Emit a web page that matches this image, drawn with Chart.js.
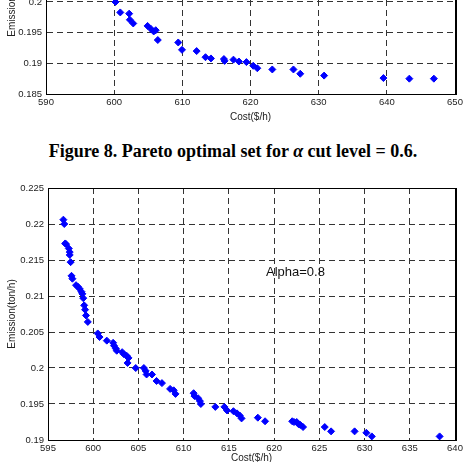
<!DOCTYPE html>
<html>
<head>
<meta charset="utf-8">
<script src="https://cdn.jsdelivr.net/npm/chart.js@4/dist/chart.umd.min.js"></script>
<style>
  html, body { margin: 0; padding: 0; background: #fff; }
  body { width: 466px; height: 462px; position: relative; overflow: hidden; }
  canvas { position: absolute; left: 0; }
  #top { top: -100px; }
  #bottom { top: 170px; }
  .caption {
    position: absolute; top: 140px; left: 0; width: 466px;
    text-align: center; font: bold 18px "Liberation Serif", "Times New Roman", serif;
    line-height: 22px; color: #000;
  }
</style>
</head>
<body>
<canvas id="top" width="466" height="230"></canvas>
<div class="caption">Figure 8. Pareto optimal set for <i>α</i> cut level = 0.6.</div>
<canvas id="bottom" width="466" height="301"></canvas>
<script>
// upper chart (only its lower part is visible)
var costTop = [600.2, 600.9, 602.2, 602.3, 602.8, 604.9, 605.4, 606.1, 605.8, 606.4,
    609.4, 609.95, 612.1, 613.4, 614.2, 616.1, 616.2, 617.5, 618.3, 619.4,
    620.4, 621.0, 623.2, 626.3, 627.3, 630.8, 639.5, 643.3, 646.9];
var emisTop = [0.2, 0.1983, 0.1981, 0.1971, 0.1965, 0.1961, 0.1956, 0.1954, 0.1952, 0.1938,
    0.1934, 0.1922, 0.1920, 0.1910, 0.1908, 0.1907, 0.1904, 0.1906, 0.1903, 0.1902,
    0.1896, 0.1892, 0.1890, 0.1890, 0.1883, 0.1880, 0.1876, 0.1875, 0.1875];

// lower chart, alpha = 0.8
var costBottom = [596.7, 596.8, 596.9, 597.0, 597.3, 597.4, 597.4, 597.5, 597.6, 597.7,
    598.1, 598.3, 598.5, 598.7, 598.8, 598.9, 599.0, 599.1, 599.2, 599.4,
    600.5, 600.7, 601.5, 602.2, 602.3, 602.5, 602.6, 603.2, 603.4, 603.7,
    603.9, 603.8, 604.7, 605.6, 605.8, 605.9, 606.5, 607.0, 607.6, 608.5,
    608.9, 609.1, 611.1, 611.2, 611.6, 611.8, 611.9, 613.5, 614.5, 614.8,
    615.5, 615.9, 616.2, 616.4, 618.2, 619.0, 622.0, 622.2, 622.5, 622.7,
    622.9, 623.2, 625.6, 626.3, 628.9, 630.2, 630.8, 638.3];
var emisBottom = [0.2206, 0.2200, 0.2173, 0.2172, 0.2166, 0.2161, 0.2157, 0.2147, 0.2128, 0.2124,
    0.2115, 0.2113, 0.2110, 0.2106, 0.2103, 0.2097, 0.2087, 0.2081, 0.2073, 0.2064,
    0.2048, 0.2043, 0.2038, 0.2035, 0.2031, 0.2027, 0.2024, 0.2022, 0.2019, 0.2017,
    0.2014, 0.2007, 0.2000, 0.2000, 0.1996, 0.1991, 0.1991, 0.1982, 0.1979, 0.1971,
    0.1969, 0.1964, 0.1965, 0.1961, 0.1958, 0.1954, 0.1950, 0.1946, 0.1946, 0.1941,
    0.1940, 0.1937, 0.1934, 0.1930, 0.1931, 0.1926, 0.1926, 0.1925, 0.1925, 0.1922,
    0.1921, 0.1918, 0.1918, 0.1912, 0.1912, 0.1910, 0.1905, 0.1905];

var noteText = 'Alpha=0.8';
var notePos = [619.1, 0.21333];

var TICK_FONT = { family: 'Liberation Sans, Arial, sans-serif', size: 9.5 };
var TITLE_FONT = { family: 'Liberation Sans, Arial, sans-serif', size: 10 };

// black frame around the plot, right side a bit heavier
var framePlugin = {
    id: 'frame',
    afterDraw: function (chart) {
        var ctx = chart.ctx, a = chart.chartArea;
        ctx.save();
        ctx.strokeStyle = '#000';
        ctx.lineWidth = 1;
        ctx.strokeRect(Math.round(a.left) + 0.5, Math.round(a.top) + 0.5,
            Math.round(a.right - a.left), Math.round(a.bottom - a.top));
        ctx.lineWidth = 2;
        ctx.beginPath();
        ctx.moveTo(Math.round(a.right) + 1, a.top);
        ctx.lineTo(Math.round(a.right) + 1, a.bottom + 1);
        ctx.stroke();
        ctx.restore();
    }
};

var notePlugin = {
    id: 'note',
    afterDatasetsDraw: function (chart, args, opts) {
        if (!opts.text) return;
        var ctx = chart.ctx;
        var x = chart.scales.x.getPixelForValue(opts.at[0]);
        var y = chart.scales.y.getPixelForValue(opts.at[1]);
        ctx.save();
        ctx.font = '13px "Liberation Sans", Arial, sans-serif';
        ctx.fillStyle = '#111';
        ctx.textAlign = 'left';
        ctx.textBaseline = 'middle';
        ctx.fillText(opts.text, x, y);
        ctx.restore();
    }
};

function makePoints(xs, ys) {
    var pts = [];
    for (var i = 0; i < xs.length; i++) {
        pts.push({ x: xs[i], y: ys[i] });
    }
    return pts;
}

function addChart(id, cfg) {
    return new Chart(document.getElementById(id), {
        type: 'scatter',
        data: {
            datasets: [{
                data: makePoints(cfg.xs, cfg.ys),
                pointStyle: 'rectRot',
                pointRadius: 3.5,
                backgroundColor: '#0000ff',
                borderColor: '#0000ff',
                borderWidth: 1
            }]
        },
        options: {
            responsive: false,
            animation: false,
            devicePixelRatio: 1,
            layout: { padding: { left: 0, right: 11, top: cfg.padTop, bottom: 0 } },
            plugins: {
                legend: { display: false },
                tooltip: { enabled: false },
                note: { text: cfg.note || '', at: cfg.noteAt || [0, 0] }
            },
            scales: {
                x: {
                    type: 'linear',
                    min: cfg.xMin, max: cfg.xMax,
                    afterFit: function (s) { s.height = cfg.xAxisH; },
                    ticks: {
                        stepSize: cfg.xStep, autoSkip: false, maxRotation: 0,
                        padding: 3, color: '#222', font: TICK_FONT
                    },
                    grid: { color: '#333', lineWidth: 1, drawTicks: false },
                    border: { display: true, color: '#000', dash: [6, 4] },
                    title: {
                        display: true, text: 'Cost($/h)', color: '#222', font: TITLE_FONT,
                        padding: { top: 7, bottom: 7 }
                    }
                },
                y: {
                    type: 'linear',
                    min: cfg.yMin, max: cfg.yMax,
                    afterFit: function (s) { s.width = cfg.yAxisW; },
                    ticks: {
                        stepSize: 0.005, padding: 4, color: '#222', font: TICK_FONT,
                        callback: function (v) { return String(+v.toFixed(3)); }
                    },
                    grid: { color: '#333', lineWidth: 1, drawTicks: false },
                    border: { display: true, color: '#000', dash: [6, 4] },
                    title: {
                        display: true, text: 'Emission(ton/h)', color: '#222', font: TITLE_FONT,
                        padding: { top: 6, bottom: 6 }
                    }
                }
            }
        },
        plugins: [framePlugin, notePlugin]
    });
}

addChart('top', {
    xs: costTop, ys: emisTop,
    xMin: 590, xMax: 650, xStep: 10,
    yMin: 0.185, yMax: 0.215,
    padTop: 10, xAxisH: 36, yAxisW: 46
});

addChart('bottom', {
    xs: costBottom, ys: emisBottom,
    xMin: 595, xMax: 640, xStep: 5,
    yMin: 0.19, yMax: 0.225,
    padTop: 18, xAxisH: 31, yAxisW: 48,
    note: noteText, noteAt: notePos
});
</script>
</body>
</html>
